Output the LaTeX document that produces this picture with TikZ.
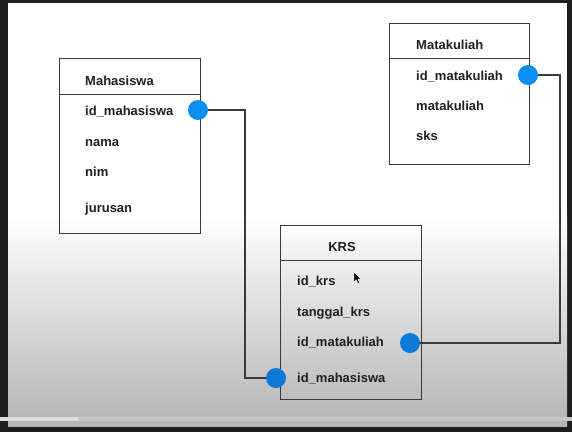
\documentclass[tikz,border=0pt]{standalone}
\usepackage{fontspec}
\setmainfont{Liberation Sans}
\definecolor{framec}{HTML}{1E1E1E}
\definecolor{linec}{HTML}{3A3A3A}
\definecolor{dotblue}{HTML}{0A8EF0}
\definecolor{dotbluedark}{HTML}{0B7AD6}
\definecolor{bgbot}{HTML}{B4B4B4}
\definecolor{barlight}{HTML}{DCDCDC}
\definecolor{bargray}{HTML}{C6C6C6}
\newcommand{\fieldfont}{\fontsize{13}{15}\selectfont\bfseries}
\begin{document}
\begin{tikzpicture}[x=1pt,y=-1pt,
  tbox/.style={draw=linec, line width=1pt, inner sep=0pt, anchor=north west},
  hline/.style={draw=linec, line width=1pt},
  field/.style={anchor=base west, inner sep=0pt, font=\fieldfont, text=black!88},
  dot/.style={circle, fill=dotblue, minimum size=20pt, inner sep=0pt},
  conn/.style={draw=linec, line width=1.1pt}]
% background / screen frame
\useasboundingbox (0,0) rectangle (572,432);
\fill[framec] (0,0) rectangle (572,432);
\fill[white] (8,3) rectangle (567,215);
\shade[top color=white, bottom color=bgbot] (8,215) rectangle (567,426);
\fill[bargray] (0,417) rectangle (572,421);
\fill[barlight] (0,417) rectangle (78,421);

% Mahasiswa table
\node[tbox, minimum width=141pt, minimum height=175pt] (mhs) at (59,58) {};
\draw[hline] ([yshift=-36pt]mhs.north west) -- ([yshift=-36pt]mhs.north east);
\node[field] (mhsT) at (85,85) {Mahasiswa};
\node[field] (mhs1) at (85,115) {id\_mahasiswa};
\node[field] (mhs2) at (85,146) {nama};
\node[field] (mhs3) at (85,176) {nim};
\node[field] (mhs4) at (85,212) {jurusan};

% Matakuliah table
\node[tbox, minimum width=140pt, minimum height=141pt] (mk) at (389,23) {};
\draw[hline] ([yshift=-35pt]mk.north west) -- ([yshift=-35pt]mk.north east);
\node[field] (mkT) at (416,49) {Matakuliah};
\node[field] (mk1) at (416,80) {id\_matakuliah};
\node[field] (mk2) at (416,110) {matakuliah};
\node[field] (mk3) at (416,140) {sks};

% KRS table
\node[tbox, minimum width=141pt, minimum height=174pt] (krs) at (280,225) {};
\draw[hline] ([yshift=-35pt]krs.north west) -- ([yshift=-35pt]krs.north east);
\node[field, anchor=base] (krsT) at (342,251) {KRS};
\node[field] (krs1) at (297,285) {id\_krs};
\node[field] (krs2) at (297,316) {tanggal\_krs};
\node[field] (krs3) at (297,346) {id\_matakuliah};
\node[field] (krs4) at (297,382) {id\_mahasiswa};

% key dots
\node[dot] (dmhs) at (198,110) {};
\node[dot] (dmk) at (528,75) {};
\node[dot, fill=dotbluedark] (dkmk) at (410,343) {};
\node[dot, fill=dotbluedark] (dkmhs) at (276,378) {};

% connectors
\coordinate (b1) at (245,110);
\coordinate (b2) at (560,75);
\draw[conn] (dmhs.east) -- (b1) |- (dkmhs.west);
\draw[conn] (dmk.east) -- (b2) |- (dkmk.east);

% mouse cursor
\fill[black, draw=white, line width=0.4pt] (354,272) -- (354,282) -- (356.3,279.8) -- (358,283.6) -- (359.6,282.9) -- (358,279.2) -- (361,279) -- cycle;
\end{tikzpicture}
\end{document}
